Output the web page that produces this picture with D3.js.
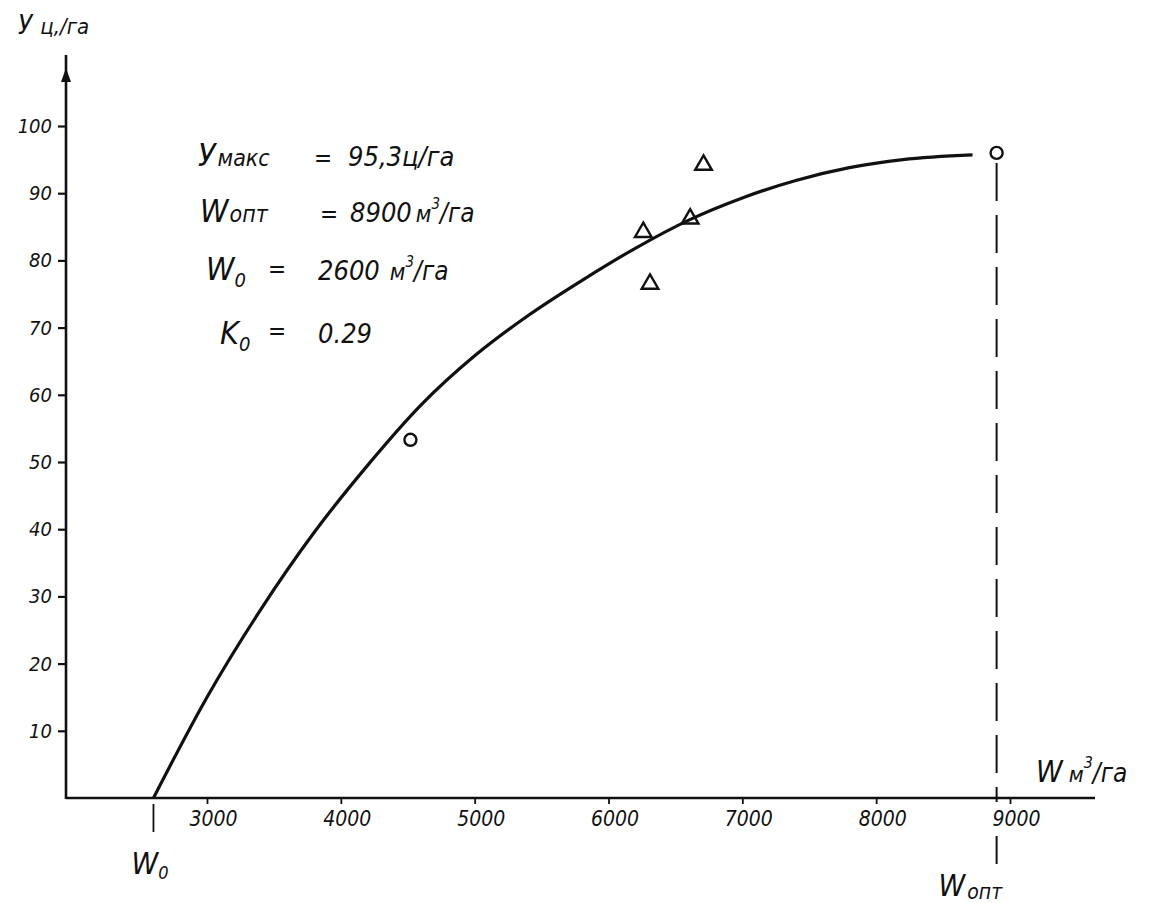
<!DOCTYPE html>
<html>
<head>
<meta charset="utf-8">
<script src="https://cdn.jsdelivr.net/npm/d3@7"></script>
<style>
  body { margin: 0; background: #fff; }
  svg text { font-family: "DejaVu Sans Condensed", "DejaVu Sans", sans-serif; font-style: oblique; fill: #111; }
</style>
</head>
<body>
<div class="graph"></div>
<script>
// values
var yTicks = [10, 20, 30, 40, 50, 60, 70, 80, 90, 100];
var xTicks = [3000, 4000, 5000, 6000, 7000, 8000, 9000];
var curveW = [2600, 3000, 3400, 3800, 4200, 4600, 5000, 5400, 5800, 6200, 6600, 7000, 7400, 7800, 8200, 8720];
var curveY = [0, 15.0, 28.0, 39.5, 49.5, 58.5, 65.8, 71.8, 77.0, 81.8, 86.0, 89.3, 91.9, 93.8, 95.0, 95.7];
var circleW = [4520, 8900];
var circleY = [53.3, 96.0];
var triW = [6260, 6310, 6610, 6710];
var triY = [84.2, 76.5, 86.2, 94.2];
var W0 = 2600, Wopt = 8900;

var width = 1161, height = 903;

var svg = d3.select(".graph").append("svg")
    .attr("width", width)
    .attr("height", height);

var x = d3.scaleLinear().domain([3000, 9000]).range([207, 1010]);
var y = d3.scaleLinear().domain([0, 100]).range([798, 126]);

var ink = "#111";

// axis lines
svg.append("line")
    .attr("x1", 66).attr("x2", 1095)
    .attr("y1", y(0)).attr("y2", y(0))
    .attr("stroke", ink).attr("stroke-width", 2.6);
svg.append("line")
    .attr("x1", 66).attr("x2", 66)
    .attr("y1", y(0) + 1).attr("y2", 55)
    .attr("stroke", ink).attr("stroke-width", 2.6);
svg.append("path")
    .attr("d", "M66,68 L61,82 L71,82 Z")
    .attr("fill", ink);

// y axis ticks
var yAxis = svg.append("g")
    .attr("transform", "translate(66,0)")
    .call(d3.axisLeft(y).tickValues(yTicks).tickSize(8).tickPadding(6));
yAxis.select(".domain").remove();
yAxis.selectAll(".tick line").attr("stroke", ink).attr("stroke-width", 2.2);
yAxis.selectAll(".tick text")
    .attr("font-size", 20).attr("fill", ink)
    .attr("font-family", "DejaVu Sans Condensed")
    .attr("font-style", "oblique");

// x axis ticks
var xAxis = svg.append("g")
    .attr("transform", "translate(0," + y(0) + ")")
    .call(d3.axisBottom(x).tickValues(xTicks).tickSize(6).tickPadding(7).tickFormat(d3.format("d")));
xAxis.select(".domain").remove();
xAxis.selectAll(".tick line").attr("stroke", ink).attr("stroke-width", 1.8);
xAxis.selectAll(".tick text")
    .attr("font-size", 21).attr("fill", ink)
    .attr("font-family", "DejaVu Sans Condensed")
    .attr("font-style", "oblique")
    .attr("dx", 6);

// W0 marker below axis
svg.append("line")
    .attr("x1", x(W0)).attr("x2", x(W0))
    .attr("y1", y(0) + 6).attr("y2", y(0) + 34)
    .attr("stroke", ink).attr("stroke-width", 1.8);
var w0lab = svg.append("text")
    .attr("x", x(W0) - 22).attr("y", 874)
    .attr("font-size", 30);
w0lab.append("tspan").text("W");
w0lab.append("tspan").attr("font-size", 18).attr("dy", 5).text("0");

// Wopt dashed line, and the piece under the axis labels
svg.append("line")
    .attr("x1", x(Wopt)).attr("x2", x(Wopt))
    .attr("y1", y(circleY[1]) + 10).attr("y2", y(0) + 4)
    .attr("stroke", ink).attr("stroke-width", 2)
    .attr("stroke-dasharray", "38,14");
svg.append("line")
    .attr("x1", x(Wopt)).attr("x2", x(Wopt))
    .attr("y1", y(0) + 38).attr("y2", y(0) + 66)
    .attr("stroke", ink).attr("stroke-width", 2);
var woptLab = svg.append("text")
    .attr("x", x(Wopt) - 58).attr("y", 896)
    .attr("font-size", 30);
woptLab.append("tspan").text("W");
woptLab.append("tspan").attr("font-size", 21).attr("dy", 3).attr("dx", 2).text("опт");

// the fitted curve
var line = d3.line()
    .x(function(d, i) { return x(d); })
    .y(function(d, i) { return y(curveY[i]); })
    .curve(d3.curveMonotoneX);
svg.append("path")
    .datum(curveW)
    .attr("d", line)
    .attr("fill", "none")
    .attr("stroke", ink)
    .attr("stroke-width", 3.2);

// circles
svg.selectAll(".pt-c")
    .data(circleW)
    .enter().append("circle")
    .attr("class", "pt-c")
    .attr("cx", function(d) { return x(d); })
    .attr("cy", function(d, i) { return y(circleY[i]); })
    .attr("r", 6)
    .attr("fill", "none")
    .attr("stroke", ink)
    .attr("stroke-width", 2.4);

// triangles
var tri = d3.symbol().type(d3.symbolTriangle).size(120);
svg.selectAll(".pt-t")
    .data(triW)
    .enter().append("path")
    .attr("class", "pt-t")
    .attr("d", tri)
    .attr("transform", function(d, i) { return "translate(" + x(d) + "," + y(triY[i]) + ")"; })
    .attr("fill", "none")
    .attr("stroke", ink)
    .attr("stroke-width", 2.4);

// axis titles
var yTitle = svg.append("text").attr("x", 18).attr("y", 34).attr("font-size", 26);
yTitle.append("tspan").text("У");
yTitle.append("tspan").attr("font-size", 22).attr("dx", 8).text("ц,/га");

var xTitle = svg.append("text").attr("x", 1036).attr("y", 782).attr("font-size", 30);
xTitle.append("tspan").text("W");
xTitle.append("tspan").attr("font-size", 22).attr("dx", 6).text("м");
xTitle.append("tspan").attr("font-size", 16).attr("dy", -14).text("3");
xTitle.append("tspan").attr("font-size", 26).attr("dy", 14).text("/га");

// parameters block
var t1 = svg.append("text").attr("x", 198).attr("y", 166).attr("font-size", 32);
t1.append("tspan").text("У");
t1.append("tspan").attr("font-size", 23).attr("dx", 2).text("макс");
t1.append("tspan").attr("x", 314).attr("font-size", 24).text("=");
t1.append("tspan").attr("x", 348).attr("font-size", 27).text("95,3ц/га");

var t2 = svg.append("text").attr("x", 200).attr("y", 222).attr("font-size", 32);
t2.append("tspan").text("W");
t2.append("tspan").attr("font-size", 23).attr("dx", 1).text("опт");
t2.append("tspan").attr("x", 320).attr("font-size", 24).text("=");
t2.append("tspan").attr("x", 350).attr("font-size", 27).text("8900");
t2.append("tspan").attr("font-size", 23).attr("dx", 4).text("м");
t2.append("tspan").attr("font-size", 15).attr("dy", -13).text("3");
t2.append("tspan").attr("font-size", 26).attr("dy", 13).text("/га");

var t3 = svg.append("text").attr("x", 206).attr("y", 280).attr("font-size", 32);
t3.append("tspan").text("W");
t3.append("tspan").attr("font-size", 20).attr("dy", 7).text("0");
t3.append("tspan").attr("x", 268).attr("dy", -10).attr("font-size", 24).text("=");
t3.append("tspan").attr("x", 318).attr("dy", 3).attr("font-size", 27).text("2600");
t3.append("tspan").attr("font-size", 23).attr("dx", 10).text("м");
t3.append("tspan").attr("font-size", 15).attr("dy", -13).text("3");
t3.append("tspan").attr("font-size", 26).attr("dy", 13).text("/га");

var t4 = svg.append("text").attr("x", 220).attr("y", 344).attr("font-size", 32);
t4.append("tspan").text("K");
t4.append("tspan").attr("font-size", 20).attr("dy", 7).text("0");
t4.append("tspan").attr("x", 268).attr("dy", -12).attr("font-size", 24).text("=");
t4.append("tspan").attr("x", 318).attr("dy", 4).attr("font-size", 27).text("0.29");
</script>
</body>
</html>
